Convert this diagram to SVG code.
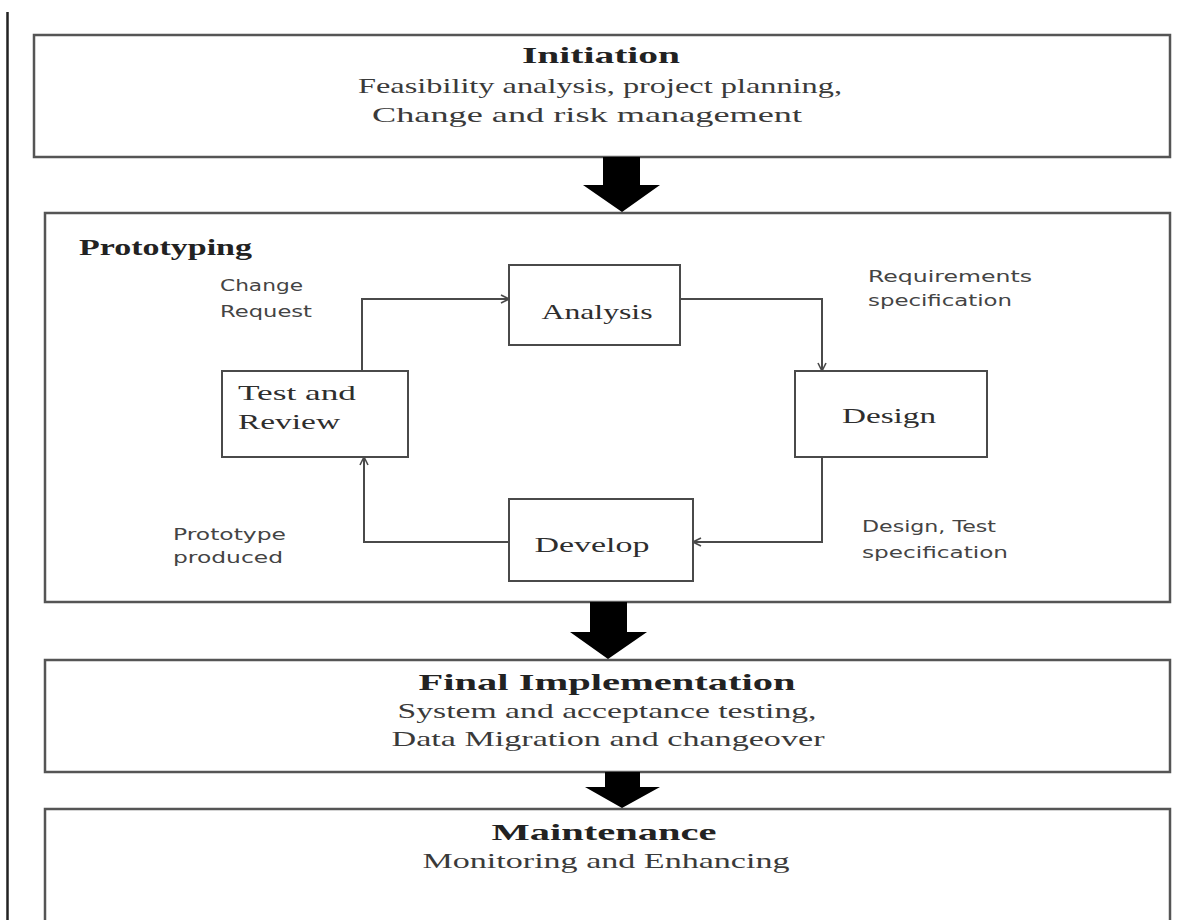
<svg xmlns="http://www.w3.org/2000/svg" width="1198" height="920" viewBox="0 0 1198 920">
  <style>
    .frame { fill: #ffffff; stroke: #555555; stroke-width: 2.5; }
    .node { fill: #ffffff; stroke: #4a4a4a; stroke-width: 2; }
    .title { font-family: "Liberation Serif", serif; font-weight: bold; font-size: 24px; fill: #222222; }
    .body { font-family: "Liberation Serif", serif; font-size: 21px; fill: #3a3a3a; }
    .label { font-family: "Liberation Serif", serif; font-size: 22px; fill: #2e2e2e; }
    .note { font-family: "DejaVu Sans", "Liberation Sans", sans-serif; font-size: 15px; fill: #444444; }
    .flow { fill: none; stroke: #4a4a4a; stroke-width: 2; }
    .big { fill: #000000; }
  </style>
  <defs>
    <marker id="open" viewBox="0 0 10 10" refX="9" refY="5" markerWidth="10" markerHeight="10" markerUnits="userSpaceOnUse" orient="auto">
      <path d="M1,1 L9,5 L1,9" fill="none" stroke="#4a4a4a" stroke-width="1.6"/>
    </marker>
  </defs>

  <rect width="1198" height="920" fill="#ffffff"/>

  <!-- page margin rule -->
  <line x1="7.5" y1="12" x2="7.5" y2="920" stroke="#222222" stroke-width="2.5"/>

  <g id="initiation">
    <rect class="frame" x="34" y="35" width="1136" height="122"/>
    <text class="title" x="601" y="63" text-anchor="middle" textLength="158" lengthAdjust="spacingAndGlyphs">Initiation</text>
    <text class="body" x="600" y="93" text-anchor="middle" textLength="484" lengthAdjust="spacingAndGlyphs">Feasibility analysis, project planning,</text>
    <text class="body" x="587" y="122" text-anchor="middle" textLength="430" lengthAdjust="spacingAndGlyphs">Change and risk management</text>
  </g>

  <g id="prototyping">
    <rect class="frame" x="45" y="213" width="1125" height="389"/>
    <text class="title" x="79" y="255" font-size="22" textLength="173" lengthAdjust="spacingAndGlyphs">Prototyping</text>
  </g>

  <g id="final-implementation">
    <rect class="frame" x="45" y="660" width="1125" height="112"/>
    <text class="title" x="607" y="690" text-anchor="middle" textLength="377" lengthAdjust="spacingAndGlyphs">Final Implementation</text>
    <text class="body" x="607" y="718" text-anchor="middle" textLength="419" lengthAdjust="spacingAndGlyphs">System and acceptance testing,</text>
    <text class="body" x="608" y="746" text-anchor="middle" textLength="433" lengthAdjust="spacingAndGlyphs">Data Migration and changeover</text>
  </g>

  <g id="maintenance">
    <rect class="frame" x="45" y="809" width="1125" height="120"/>
    <text class="title" x="604" y="840" text-anchor="middle" textLength="225" lengthAdjust="spacingAndGlyphs">Maintenance</text>
    <text class="body" x="606" y="868" text-anchor="middle" textLength="367" lengthAdjust="spacingAndGlyphs">Monitoring and Enhancing</text>
  </g>

  <g id="analysis">
    <rect class="node" x="509" y="265" width="171" height="80"/>
    <text class="label" x="597" y="319" text-anchor="middle" textLength="111" lengthAdjust="spacingAndGlyphs">Analysis</text>
  </g>

  <g id="design">
    <rect class="node" x="795" y="371" width="192" height="86"/>
    <text class="label" x="889" y="423" text-anchor="middle" textLength="94" lengthAdjust="spacingAndGlyphs">Design</text>
  </g>

  <g id="develop">
    <rect class="node" x="509" y="499" width="184" height="82"/>
    <text class="label" x="592" y="552" text-anchor="middle" textLength="115" lengthAdjust="spacingAndGlyphs">Develop</text>
  </g>

  <g id="test-review">
    <rect class="node" x="222" y="371" width="186" height="86"/>
    <text class="label" x="238" y="400" textLength="118" lengthAdjust="spacingAndGlyphs">Test and</text>
    <text class="label" x="238" y="429" textLength="102" lengthAdjust="spacingAndGlyphs">Review</text>
  </g>

  <g id="connectors">
    <!-- phase-to-phase block arrows -->
    <polygon class="big" points="603,157 640,157 640,185 660,185 622,212 583,185 603,185"/>
    <polygon class="big" points="590,602 627,602 627,632 647,632 608,659 570,632 590,632"/>
    <polygon class="big" points="605,772 640,772 640,787 660,787 622,808 585,787 605,787"/>

    <!-- prototyping loop -->
    <polyline class="flow" points="362,371 362,299 509,299" marker-end="url(#open)"/>
    <polyline class="flow" points="680,299 822,299 822,371" marker-end="url(#open)"/>
    <polyline class="flow" points="822,457 822,542 693,542" marker-end="url(#open)"/>
    <polyline class="flow" points="509,542 364,542 364,457" marker-end="url(#open)"/>

    <text class="note" x="220" y="291" textLength="83" lengthAdjust="spacingAndGlyphs">Change</text>
    <text class="note" x="220" y="317" textLength="92" lengthAdjust="spacingAndGlyphs">Request</text>
    <text class="note" x="868" y="282" textLength="164" lengthAdjust="spacingAndGlyphs">Requirements</text>
    <text class="note" x="868" y="306" textLength="144" lengthAdjust="spacingAndGlyphs">specification</text>
    <text class="note" x="862" y="532" textLength="134" lengthAdjust="spacingAndGlyphs">Design, Test</text>
    <text class="note" x="862" y="558" textLength="146" lengthAdjust="spacingAndGlyphs">specification</text>
    <text class="note" x="173" y="540" textLength="113" lengthAdjust="spacingAndGlyphs">Prototype</text>
    <text class="note" x="173" y="563" textLength="110" lengthAdjust="spacingAndGlyphs">produced</text>
  </g>
</svg>
